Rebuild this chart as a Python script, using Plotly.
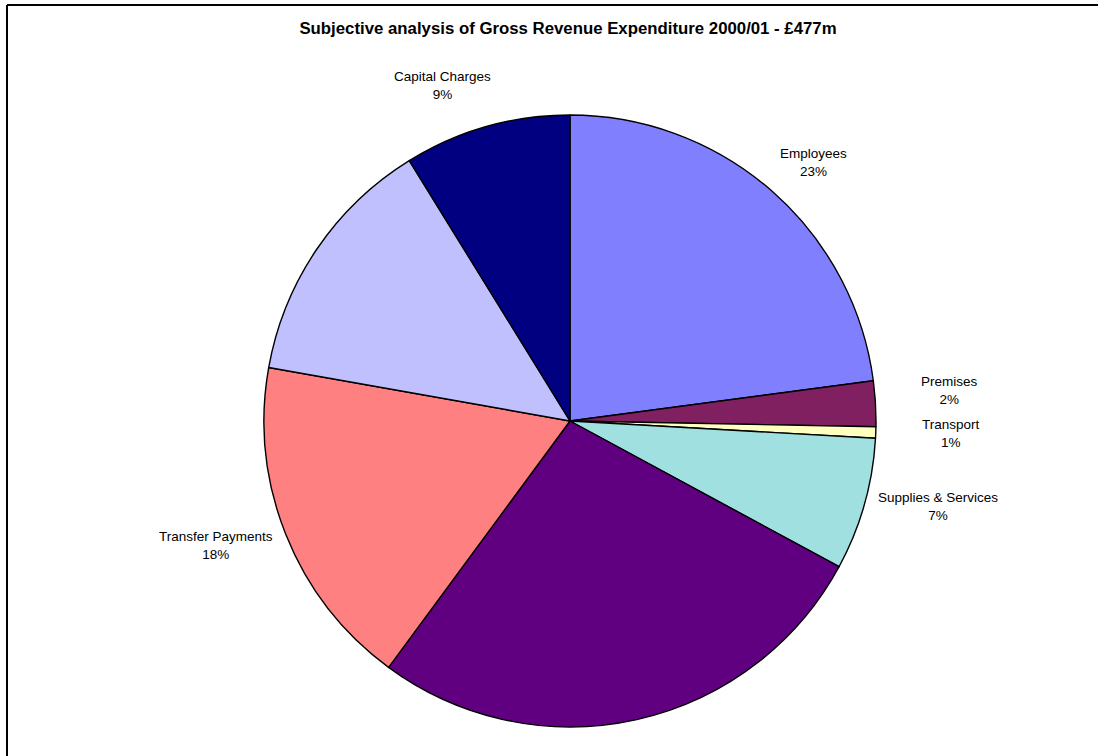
import math
import plotly.graph_objects as go

# Data (percent of gross revenue expenditure)
categories = ["Employees", "Premises", "Transport", "Supplies & Services",
              "Third Party Payments", "Transfer Payments", "Support Services",
              "Capital Charges"]
shares = [22.9, 2.4, 0.6, 7.0, 27.2, 17.7, 13.4, 8.8]
show_label = [True, True, True, True, False, True, False, True]
colors = ["#8080FF", "#802060", "#FFFFC0", "#A0E0E0",
          "#600080", "#FF8080", "#C0C0FF", "#000080"]
title_text = "Subjective analysis of Gross Revenue Expenditure 2000/01 - £477m"

# Layout / styling (label placement relative to each slice's middle)
label_radius = [355, 381, 381, 378, 0, 375, 0, 359]      # px from centre
label_angle_shift = [2.0, -1.4, -0.3, -2.8, 0, 2.4, 0, -5.0]  # degrees

W, H = 1098, 756
cx, cy, r = 570, 421, 306
FONT = "Arial, Liberation Sans, sans-serif"

fig = go.Figure(go.Pie(
    labels=categories,
    values=shares,
    sort=False,
    direction="clockwise",
    rotation=0,
    marker=dict(colors=colors, line=dict(color="black", width=1.4)),
    textinfo="none",
    showlegend=False,
    hoverinfo="label+percent",
    domain=dict(x=[(cx - r) / W, (cx + r) / W], y=[1 - (cy + r) / H, 1 - (cy - r) / H]),
))

total = sum(shares)
annotations = []
cum = 0.0
for name, val, show, rad, shift in zip(categories, shares, show_label, label_radius, label_angle_shift):
    mid = (cum + val / 2) / total * 360.0
    cum += val
    if not show:
        continue
    a = math.radians(mid + shift)
    px = cx + rad * math.sin(a)
    py = cy - rad * math.cos(a)
    annotations.append(dict(
        x=px / W, y=1 - py / H, xref="paper", yref="paper",
        text=f"{name}<br>{round(val / total * 100)}%",
        showarrow=False, xanchor="center", yanchor="middle", align="center",
        font=dict(family=FONT, size=13.5, color="black"),
    ))

fig.update_layout(
    width=W, height=H,
    margin=dict(l=0, r=0, t=0, b=0),
    paper_bgcolor="white",
    plot_bgcolor="white",
    title=dict(text="<b>" + title_text + "</b>", x=568 / W, xanchor="center",
               y=1 - 28 / H, yanchor="middle", yref="container",
               font=dict(family=FONT, size=16.8, color="black")),
    annotations=annotations,
    shapes=[
        dict(type="line", xref="paper", yref="paper", x0=7 / W, x1=1, y0=1 - 5 / H, y1=1 - 5 / H,
             line=dict(color="black", width=2)),
        dict(type="line", xref="paper", yref="paper", x0=7 / W, x1=7 / W, y0=0, y1=1 - 5 / H,
             line=dict(color="black", width=2)),
    ],
)

fig.write_html("out.html", config={"displayModeBar": False},
               post_script="document.body.style.margin='0';document.body.style.padding='0';")
